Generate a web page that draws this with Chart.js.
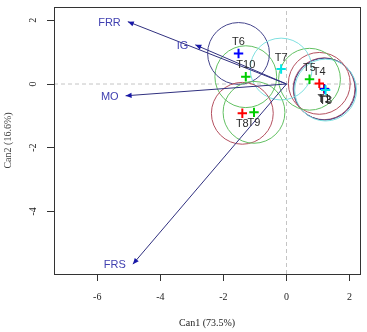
<!DOCTYPE html>
<html><head><meta charset="utf-8">
<script src="https://cdn.jsdelivr.net/npm/chart.js@4"></script>
<style>html,body{margin:0;padding:0;background:#fff}#wrap{width:367px;height:332px}</style>
</head><body><div id="wrap"><canvas id="c" width="367" height="332"></canvas></div>
<script>
// ---- data ----
const groups = ['T1','T10','T2','T3','T4','T5','T6','T7','T8','T9'];
const can1 = [1.19,-1.29,1.21,1.24,1.04,0.73,-1.52,-0.17,-1.40,-1.03];
const can2 = [-0.15,0.23,-0.16,-0.19,0.02,0.15,0.96,0.47,-0.92,-0.89];
const circleRadius = 0.98;
const variables = ['FRR','IG','MO','FRS'];
const vecX = [-5.03,-2.89,-5.10,-4.87];
const vecY = [1.96,1.23,-0.37,-5.66];
const xTicks = [-6,-4,-2,0,2];
const yTicks = [-4,-2,0,2];
const xRange = [-7.37, 2.34];
const yRange = [-5.97, 2.42];
const xTitle = 'Can1 (73.5%)';
const yTitle = 'Can2 (16.6%)';

// ---- styles ----
const palette = ['#ff0000','#00cd00','#0000ff','#00e5e5'];
const circlePalette = ['#b4505f','#62c062','#45458c','#7fe0e0'];
const markerColors = groups.map((g,i)=>palette[i%4]);
const circleColors = groups.map((g,i)=>circlePalette[i%4]);
const vecColor = '#30307f';
const vecTextColor = '#4040b0';
const sans = '"Liberation Sans", Arial, sans-serif';
const serif = '"Liberation Serif", "Times New Roman", serif';

const pts = groups.map((g,i)=>({x:can1[i], y:can2[i]}));

function radiusPx(ctx){
  const s = ctx.chart.scales.x;
  return Math.abs(s.getPixelForValue(circleRadius) - s.getPixelForValue(0));
}

const datasets = [];
datasets.push({type:'line', data:[{x:0,y:yRange[0]},{x:0,y:yRange[1]}], borderColor:'#c4c4c4', borderWidth:1, borderDash:[4,3], pointRadius:0, order:10});
datasets.push({type:'line', data:[{x:xRange[0],y:0},{x:xRange[1],y:0}], borderColor:'#c4c4c4', borderWidth:1, borderDash:[4,3], pointRadius:0, order:10});
datasets.push({type:'scatter', data:pts, pointStyle:'circle', pointRadius:radiusPx, pointHoverRadius:radiusPx, pointBorderColor:circleColors, pointBackgroundColor:'rgba(0,0,0,0)', pointBorderWidth:1, order:8});
variables.forEach((v,i)=>{
  datasets.push({type:'line', data:[{x:0,y:0},{x:vecX[i],y:vecY[i]}], borderColor:vecColor, borderWidth:1, pointRadius:0, order:6});
});
datasets.push({type:'scatter', data:pts, pointStyle:'cross', pointRadius:4.7, pointBorderColor:markerColors, pointBorderWidth:2, order:4});

const overlay = {
  id:'overlay',
  afterDatasetsDraw(chart){
    const {ctx, scales:{x,y}, chartArea:a} = chart;
    ctx.save();
    // arrows
    variables.forEach((v,i)=>{
      const x0=x.getPixelForValue(0), y0=y.getPixelForValue(0);
      const x1=x.getPixelForValue(vecX[i]), y1=y.getPixelForValue(vecY[i]);
      const ang=Math.atan2(y1-y0,x1-x0);
      const L=6, W=2.6;
      ctx.fillStyle='#1818a8';
      ctx.beginPath();
      ctx.moveTo(x1,y1);
      ctx.lineTo(x1-L*Math.cos(ang)+W*Math.sin(ang), y1-L*Math.sin(ang)-W*Math.cos(ang));
      ctx.lineTo(x1-L*Math.cos(ang)-W*Math.sin(ang), y1-L*Math.sin(ang)+W*Math.cos(ang));
      ctx.closePath(); ctx.fill();
      ctx.font='11px '+sans; ctx.fillStyle=vecTextColor;
      ctx.textAlign='right'; ctx.textBaseline='middle';
      ctx.fillText(v, x1-7, y1+1);
    });
    // group labels
    ctx.font='11px '+sans; ctx.fillStyle='#2a2a2a'; ctx.textAlign='center'; ctx.textBaseline='middle';
    groups.forEach((g,i)=>{
      const px=x.getPixelForValue(can1[i]), py=y.getPixelForValue(can2[i]);
      ctx.fillText(g, px, can2[i]>0 ? py-11.5 : py+10.5);
    });
    ctx.restore();
  },
  afterDraw(chart){
    const {ctx, scales:{y}, chartArea:a} = chart;
    ctx.save();
    ctx.strokeStyle='#333'; ctx.lineWidth=1;
    ctx.strokeRect(Math.round(a.left)+0.5, Math.round(a.top)+0.5, Math.round(a.right-a.left), Math.round(a.bottom-a.top));
    ctx.font='10px '+serif; ctx.fillStyle='#222'; ctx.textAlign='center'; ctx.textBaseline='middle';
    y.ticks.forEach(t=>{
      const py=y.getPixelForValue(t.value);
      ctx.save(); ctx.translate(33, py); ctx.rotate(-Math.PI/2);
      ctx.fillText(String(t.value), 0, 0); ctx.restore();
    });
    ctx.restore();
  }
};

new Chart(document.getElementById('c'), {
  data:{datasets},
  options:{
    responsive:false, animation:false, devicePixelRatio:1,
    events:[],
    layout:{padding:{top:7,right:5,left:0,bottom:0}},
    plugins:{legend:{display:false}, tooltip:{enabled:false}},
    scales:{
      x:{type:'linear', min:xRange[0], max:xRange[1],
        afterBuildTicks(s){ s.ticks = xTicks.map(v=>({value:v})); },
        afterFit(s){ s.height = 58; },
        grid:{display:true, drawOnChartArea:false, drawTicks:true, tickLength:7, color:'#333'},
        border:{display:false},
        ticks:{font:{family:serif,size:10}, color:'#222', padding:10, maxRotation:0, autoSkip:false},
        title:{display:true, text:xTitle, font:{family:serif,size:10}, color:'#222', padding:{top:0,bottom:3}}
      },
      y:{type:'linear', min:yRange[0], max:yRange[1],
        afterBuildTicks(s){ s.ticks = yTicks.map(v=>({value:v})); },
        afterFit(s){ s.width = 54; },
        grid:{display:true, drawOnChartArea:false, drawTicks:true, tickLength:7, color:'#333'},
        border:{display:false},
        ticks:{display:false},
        title:{display:true, text:yTitle, font:{family:serif,size:10}, color:'#444', padding:{top:2,bottom:0}}
      }
    }
  },
  plugins:[overlay]
});
</script>
</body></html>
